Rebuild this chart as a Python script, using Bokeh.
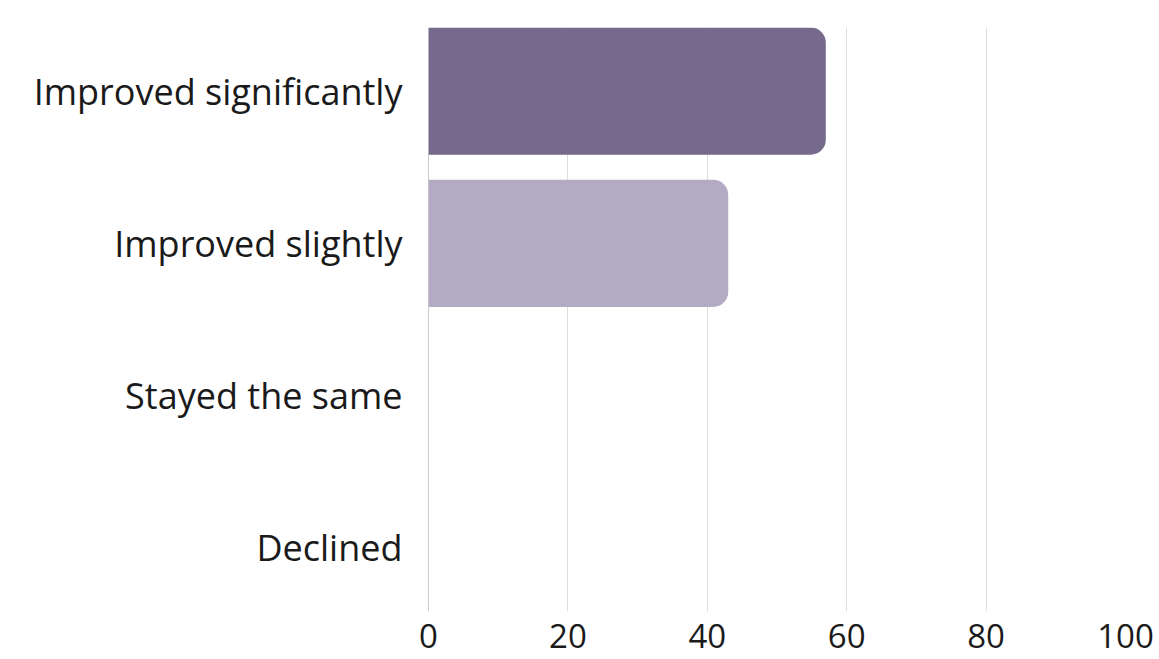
from bokeh.plotting import figure
from bokeh.models import ColumnDataSource, FixedTicker, Span, Range1d
from bokeh.embed import file_html
from bokeh.resources import INLINE

categories = ["Improved significantly", "Improved slightly", "Stayed the same", "Declined"]
values = [57, 43, 0, 0]
colors = ["#766A8C", "#B3AAC4", "#766A8C", "#B3AAC4"]
x_ticks = [0, 20, 40, 60, 80, 100]

n = len(categories)
ypos = [n - 1 - i for i in range(n)]
bar_h = 0.835

src = ColumnDataSource(dict(y=ypos, right=values, color=colors, label=categories))

p = figure(width=1159, height=659, output_backend="svg", toolbar_location=None,
           x_range=Range1d(0, 100), y_range=Range1d(-bar_h / 2, n - 1 + bar_h / 2),
           min_border_left=428, min_border_top=27, min_border_right=34, min_border_bottom=48)
p.outline_line_color = None
p.background_fill_color = "white"

p.add_layout(Span(location=0, dimension="height", line_color="#9a9a9a", line_width=1, level="underlay"))

p.hbar(y="y", left=0, right="right", height=bar_h, fill_color="color", line_color=None, source=src,
       border_radius=(0, 15, 15, 0))

p.xgrid.ticker = FixedTicker(ticks=x_ticks[1:])
p.xgrid.grid_line_color = "#dddddd"
p.xgrid.grid_line_width = 1
p.ygrid.grid_line_color = None

p.xaxis.ticker = FixedTicker(ticks=x_ticks)
p.xaxis.axis_line_color = None
p.xaxis.major_tick_line_color = None
p.xaxis.minor_tick_line_color = None
p.xaxis.major_tick_out = 0
p.xaxis.major_label_standoff = 12
p.xaxis.major_label_text_font = "Open Sans"
p.xaxis.major_label_text_font_size = "33px"
p.xaxis.major_label_text_line_height = 0.8
p.xaxis.major_label_text_color = "#1a1a1a"

p.yaxis.ticker = FixedTicker(ticks=ypos)
p.yaxis.major_label_overrides = {y: c for y, c in zip(ypos, categories)}
p.yaxis.axis_line_color = None
p.yaxis.major_tick_line_color = None
p.yaxis.minor_tick_line_color = None
p.yaxis.major_tick_out = 0
p.yaxis.major_label_standoff = 26
p.yaxis.major_label_text_font = "Open Sans"
p.yaxis.major_label_text_font_size = "36px"
p.yaxis.major_label_text_color = "#1a1a1a"

open("out.html", "w").write(file_html(p, INLINE))
